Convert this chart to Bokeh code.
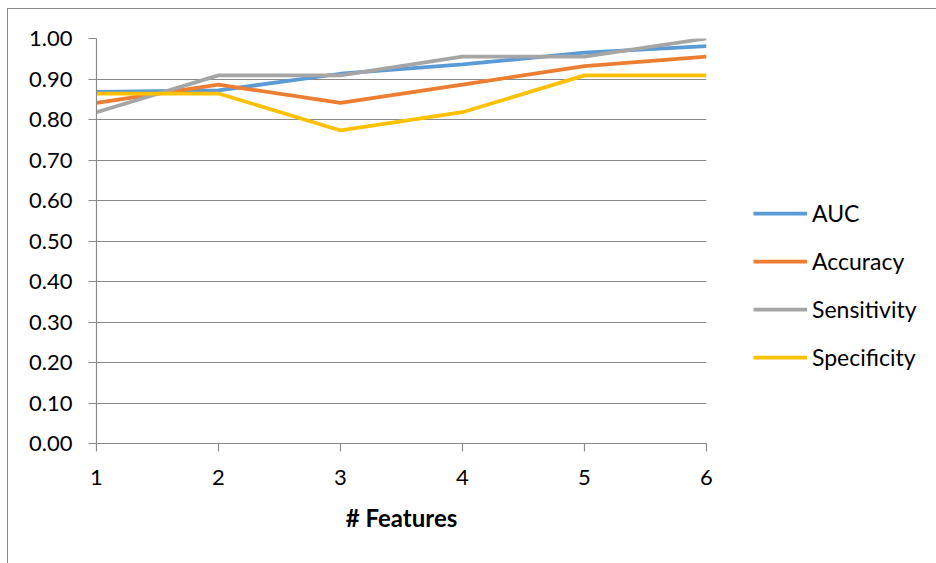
from bokeh.plotting import figure
from bokeh.models import Legend, LegendItem, FixedTicker, NumeralTickFormatter, Range1d
from bokeh.embed import file_html
from bokeh.resources import INLINE

features = [1, 2, 3, 4, 5, 6]
auc = [0.868, 0.872, 0.913, 0.936, 0.965, 0.981]
accuracy = [0.841, 0.886, 0.841, 0.886, 0.932, 0.955]
sensitivity = [0.818, 0.909, 0.909, 0.955, 0.955, 1.000]
specificity = [0.864, 0.864, 0.773, 0.818, 0.909, 0.909]
series_names = ["AUC", "Accuracy", "Sensitivity", "Specificity"]
colors = ["#5B9BD5", "#ED7D31", "#A5A5A5", "#FFC000"]
y_ticks = [0.0, 0.1, 0.2, 0.3, 0.4, 0.5, 0.6, 0.7, 0.8, 0.9, 1.0]

FONT = "Lato"
GRAY = "#8a8a8a"

p = figure(frame_width=610, frame_height=405, output_backend="svg", toolbar_location=None,
           x_range=Range1d(1, 6), y_range=Range1d(0, 1),
           min_border_left=88, min_border_right=226, min_border_top=29, min_border_bottom=120)
p.outline_line_color = None
p.styles = {"border-top": "1px solid #8c8c8c", "border-left": "1px solid #8c8c8c",
            "margin-left": "7px", "margin-top": "8px"}

lines = []
for vals, c in zip([auc, accuracy, sensitivity, specificity], colors):
    r = p.line(features, vals, line_color=c, line_width=3.75)
    lines.append(r)

p.yaxis.ticker = FixedTicker(ticks=y_ticks)
p.yaxis.formatter = NumeralTickFormatter(format="0.00")
p.xaxis.ticker = FixedTicker(ticks=features)
p.ygrid.ticker = FixedTicker(ticks=y_ticks)
p.xgrid.grid_line_color = None
p.ygrid.grid_line_color = GRAY
p.ygrid.grid_line_width = 1.2

for ax in (p.xaxis, p.yaxis):
    ax.axis_line_color = GRAY
    ax.axis_line_width = 1.2
    ax.major_tick_line_color = GRAY
    ax.major_tick_line_width = 1.2
    ax.minor_tick_line_color = None
    ax.major_tick_in = 0
    ax.major_tick_out = 8
    ax.major_label_text_font = FONT
    ax.major_label_text_font_size = "22px"
    ax.major_label_text_color = "#000000"

p.yaxis.major_label_standoff = 16
p.xaxis.major_label_standoff = 18
p.xaxis.axis_label = "# Features"
p.xaxis.axis_label_text_font = FONT
p.xaxis.axis_label_text_font_style = "bold"
p.xaxis.axis_label_text_font_size = "24px"
p.xaxis.axis_label_text_color = "#000000"
p.xaxis.axis_label_standoff = 15

items = [LegendItem(label=n, renderers=[r]) for n, r in zip(series_names, lines)]
legend = Legend(items=items, location=(47, 72), orientation="vertical",
                glyph_width=54, glyph_height=20, label_height=20, spacing=20,
                label_standoff=5, padding=0, margin=0,
                border_line_color=None, background_fill_alpha=0,
                label_text_font=FONT, label_text_font_size="23px",
                label_text_color="#000000")
p.add_layout(legend, "right")

open("out.html", "w").write(file_html(p, INLINE))
